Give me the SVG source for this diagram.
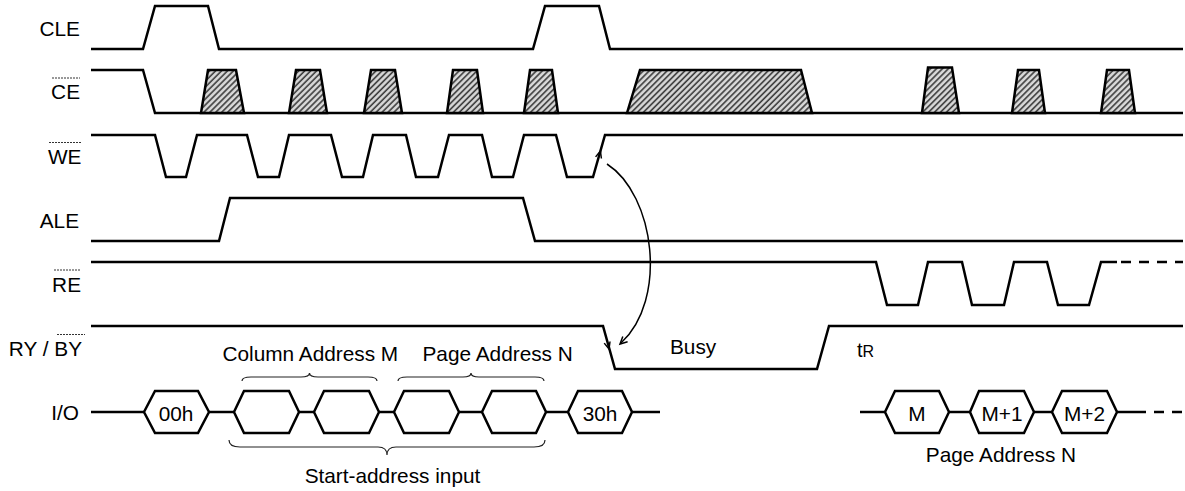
<svg xmlns="http://www.w3.org/2000/svg" width="1185" height="491" viewBox="0 0 1185 491">
<defs>
<pattern id="hatch" width="4.2" height="4.2" patternUnits="userSpaceOnUse" patternTransform="rotate(45)">
<rect width="4.2" height="4.2" fill="#d9d9d9"/>
<line x1="1" y1="0" x2="1" y2="4.2" stroke="#3a3a3a" stroke-width="1.6"/>
</pattern>
</defs>
<style>
.sig{fill:none;stroke:#000;stroke-width:2.5;stroke-linejoin:miter}
.dash{fill:none;stroke:#000;stroke-width:2.5;stroke-dasharray:10 8}
.hat{fill:url(#hatch);stroke:#000;stroke-width:2.5}
.hex{fill:#fff;stroke:#000;stroke-width:2.5}
.lbl{font-family:"Liberation Sans",Arial,sans-serif;font-size:20.8px;fill:#000}
.tr{font-family:"Liberation Sans",Arial,sans-serif;font-size:20px;fill:#000}
.sub{font-size:16px}
.ov{stroke:#333;stroke-width:1;stroke-dasharray:2 1}
.brace{fill:none;stroke:#222;stroke-width:1.2}
.arr{fill:none;stroke:#000;stroke-width:1.5}
</style>
<g id="labels">
<text class="lbl" x="80" y="36" text-anchor="end">CLE</text>
<text class="lbl" x="80" y="99" text-anchor="end">CE</text>
<line class="ov" x1="52" y1="78" x2="80" y2="78"/>
<text class="lbl" x="81.5" y="164" text-anchor="end">WE</text>
<line class="ov" x1="49" y1="142.5" x2="81.5" y2="142.5"/>
<text class="lbl" x="79" y="228" text-anchor="end">ALE</text>
<text class="lbl" x="81" y="292" text-anchor="end">RE</text>
<line class="ov" x1="54" y1="270" x2="81" y2="270"/>
<text class="lbl" x="82" y="356" text-anchor="end">RY / BY</text>
<line class="ov" x1="57" y1="334.5" x2="85" y2="334.5"/>
<text class="lbl" x="79" y="420" text-anchor="end">I/O</text>
</g>
<g id="CLE">
<polyline class="sig" points="91,49 143,49 155,6 208,6 219,49 533,49 545,6 599,6 610,49 1183,49"/>
</g>
<g id="CE">
<polyline class="sig" points="91,70 143,70 155,113 1183,113"/>
<polygon class="hat" points="201,113 208,70 236,70 244,113"/>
<polygon class="hat" points="289,113 296,70 320,70 327,113"/>
<polygon class="hat" points="364,113 371,70 395,70 402,113"/>
<polygon class="hat" points="447,113 453,70 477,70 483,113"/>
<polygon class="hat" points="524,113 530,70 552,70 558,113"/>
<polygon class="hat" points="627,113 640,70 801,70 812,113"/>
<polygon class="hat" points="922,113 928,67.5 952,67.5 959,113"/>
<polygon class="hat" points="1012,113 1018,70 1039,70 1045,113"/>
<polygon class="hat" points="1101,113 1107,70 1129,70 1135,113"/>
</g>
<g id="WE">
<polyline class="sig" points="91,135 155,135 166,177 186,177 197,135 247,135 258,177 279,177 289,135 331,135 342,177 363,177 373,135 406,135 416,177 438,177 449,135 482,135 492,177 513,177 524,135 556,135 567,177 593,177 605,135 1183,135"/>
</g>
<g id="ALE">
<polyline class="sig" points="91,241 219,241 230,198 523,198 535,241 1183,241"/>
</g>
<g id="RE">
<polyline class="sig" points="91,262 876,262 887,305 918,305 928,262 962,262 972,305 1004,305 1014,262 1047,262 1058,305 1089,305 1101,262 1117,262"/>
<line class="dash" x1="1117" y1="262" x2="1183" y2="262" stroke-dashoffset="-4"/>
</g>
<g id="RYBY">
<polyline class="sig" points="91,326 603,326 615,369 817,369 829,326 1183,326"/>
<text class="lbl" x="670" y="354">Busy</text>
<text class="tr" x="857" y="357">t<tspan class="sub">R</tspan></text>
</g>
<g id="IO">
<g id="io-lines">
<line class="sig" x1="91" y1="412" x2="144" y2="412"/>
<line class="sig" x1="209" y1="412" x2="234" y2="412"/>
<line class="sig" x1="299" y1="412" x2="314" y2="412"/>
<line class="sig" x1="379" y1="412" x2="394" y2="412"/>
<line class="sig" x1="459" y1="412" x2="482" y2="412"/>
<line class="sig" x1="546" y1="412" x2="568" y2="412"/>
<line class="sig" x1="632" y1="412" x2="660" y2="412"/>
<line class="sig" x1="860" y1="412" x2="885" y2="412"/>
<line class="sig" x1="949" y1="412" x2="970" y2="412"/>
<line class="sig" x1="1034" y1="412" x2="1052" y2="412"/>
<line class="sig" x1="1117" y1="412" x2="1146" y2="412"/>
<line class="dash" x1="1146" y1="412" x2="1183" y2="412" stroke-dashoffset="-8"/>
</g>
<g id="hex-00h"><path class="hex" d="M144,412 L155,391 L198,391 L209,412 L198,433 L155,433 Z"/><text class="lbl" x="176" y="421" text-anchor="middle">00h</text></g>
<g id="hex-c1"><path class="hex" d="M234,412 L244,391 L289,391 L299,412 L289,433 L244,433 Z"/></g>
<g id="hex-c2"><path class="hex" d="M314,412 L324,391 L369,391 L379,412 L369,433 L324,433 Z"/></g>
<g id="hex-p1"><path class="hex" d="M394,412 L404,391 L449,391 L459,412 L449,433 L404,433 Z"/></g>
<g id="hex-p2"><path class="hex" d="M482,412 L492,391 L536,391 L546,412 L536,433 L492,433 Z"/></g>
<g id="hex-30h"><path class="hex" d="M568,412 L578,391 L622,391 L632,412 L622,433 L578,433 Z"/><text class="lbl" x="600" y="421" text-anchor="middle">30h</text></g>
<g id="hex-M"><path class="hex" d="M885,412 L895,391 L939,391 L949,412 L939,433 L895,433 Z"/><text class="lbl" x="917" y="421" text-anchor="middle">M</text></g>
<g id="hex-M1"><path class="hex" d="M970,412 L979,391 L1024,391 L1034,412 L1024,433 L979,433 Z"/><text class="lbl" x="1002" y="421" text-anchor="middle">M+1</text></g>
<g id="hex-M2"><path class="hex" d="M1052,412 L1062,391 L1107,391 L1117,412 L1107,433 L1062,433 Z"/><text class="lbl" x="1084.5" y="421" text-anchor="middle">M+2</text></g>
</g>
<g id="annotations">
<text class="lbl" x="222.5" y="361">Column Address M</text>
<path class="brace" d="M242,381 Q242,377 251,377 L301,377 Q309.5,377 309.5,373 Q309.5,377 318,377 L368,377 Q377,377 377,381"/>
<text class="lbl" x="422.5" y="361">Page Address N</text>
<path class="brace" d="M398,381 Q398,377 407,377 L463,377 Q471,377 471,373 Q471,377 479,377 L535,377 Q544,377 544,381"/>
<path class="brace" d="M229,440 Q229,447 240,447 L378,447 Q387,447 387,455 Q387,447 396,447 L534,447 Q545,447 545,440"/>
<text class="lbl" x="392.5" y="483" text-anchor="middle">Start-address input</text>
<text class="lbl" x="1001" y="462" text-anchor="middle">Page Address N</text>
</g>
<g id="connectors">
<path class="arr" d="M607,164 C655,195 668,300 621,343"/>
<polyline class="arr" points="622.8,336.6 620,344 627.6,341.8"/>
<polyline class="arr" points="595.6,156.9 600.4,151 601.4,158.5"/>
<polyline class="arr" points="604.2,343.1 609,349 610,341.5"/>
</g>
</svg>
